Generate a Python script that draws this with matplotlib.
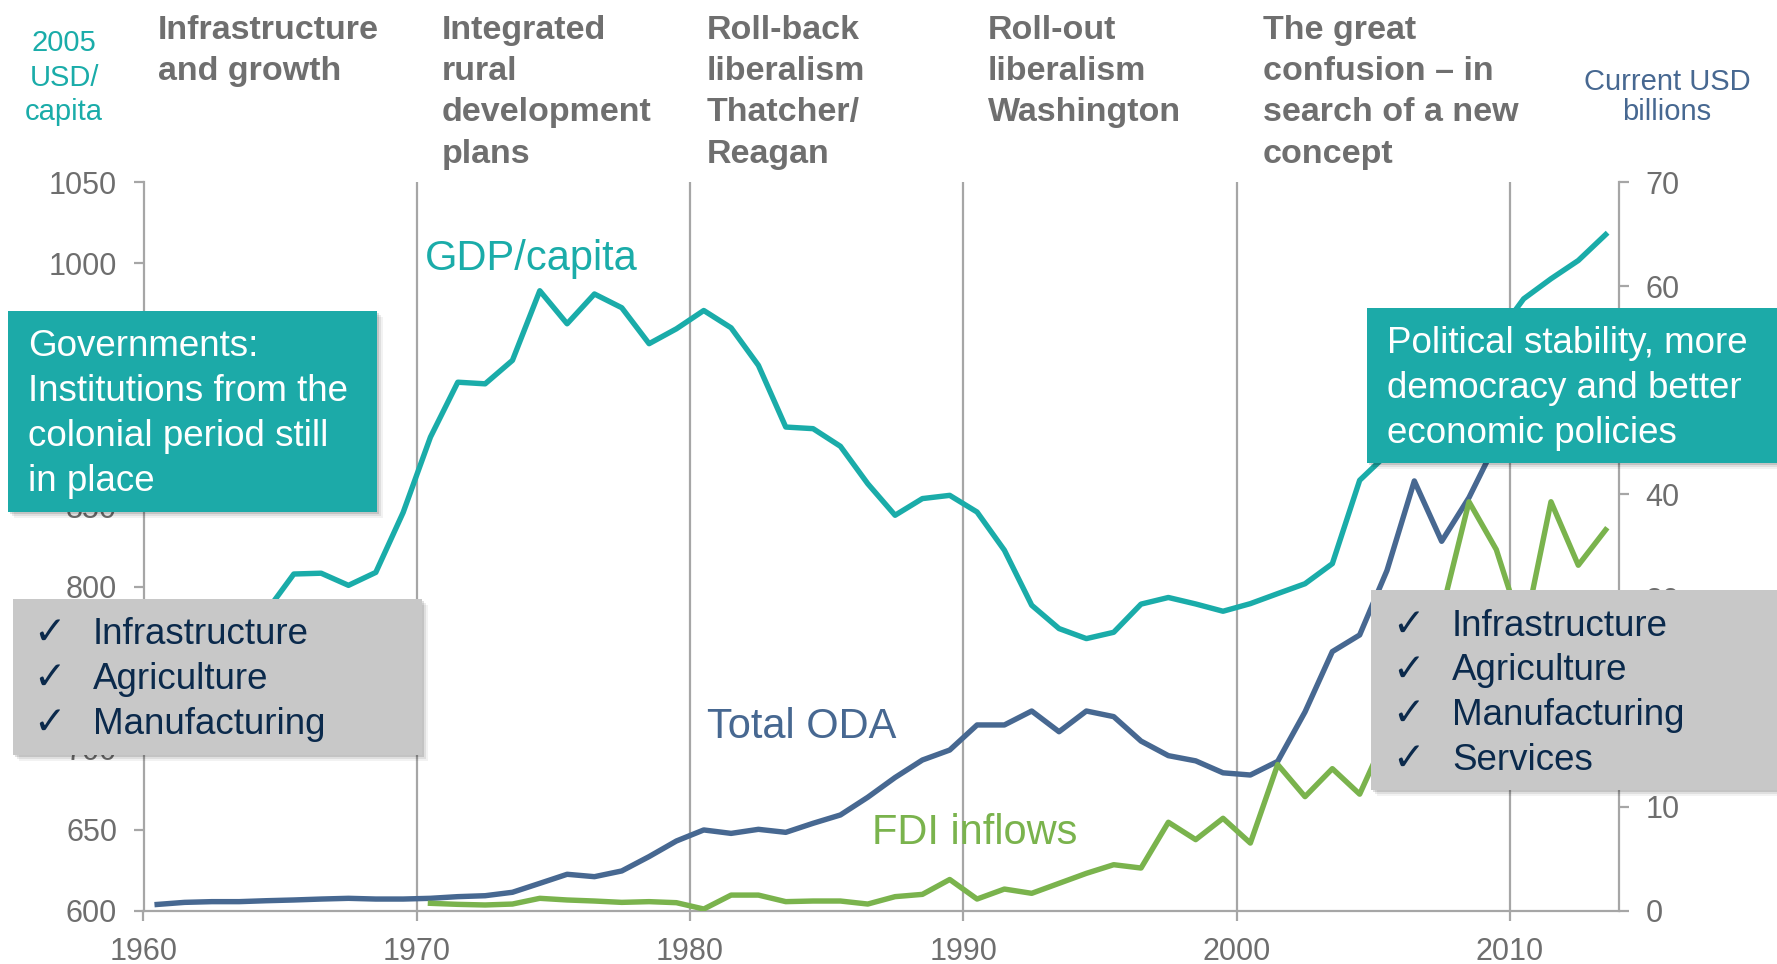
import numpy as np
import matplotlib.pyplot as plt
from matplotlib.patches import Rectangle

plt.rcParams['font.family'] = ['Liberation Sans', 'DejaVu Sans']

# data
years = np.arange(1960, 2014)
gdp_capita = [760, 758, 765, 772, 785, 808, 808.5, 801, 809, 846,
              892.6, 926.5, 925.5, 940, 983, 962.6, 981, 972.5, 950.3, 959.5,
              970.8, 960.1, 936.9, 898.8, 897.8, 886.9, 863.8, 844.3, 854.6, 856.6,
              846.3, 822.7, 788.7, 774.3, 768.1, 772, 789.4, 793.5, 789.5, 785,
              789.7, 795.9, 802, 814.4, 865.9, 882, 900, 920, 940, 955,
              978, 990.4, 1001.7, 1017.7]
total_oda = [0.6, 0.8, 0.87, 0.87, 0.96, 1.03, 1.12, 1.19, 1.12, 1.12,
             1.19, 1.35, 1.44, 1.77, 2.63, 3.5, 3.27, 3.82, 5.2, 6.7,
             7.76, 7.43, 7.82, 7.53, 8.4, 9.2, 10.9, 12.8, 14.48, 15.44,
             17.85, 17.85, 19.19, 17.2, 19.19, 18.65, 16.3, 14.9, 14.4, 13.25,
             13.04, 14.35, 19.1, 24.9, 26.5, 32.7, 41.3, 35.5, 39.7, 45,
             48, 51.5, 51, 55]
fdi_years = np.arange(1970, 2014)
fdi_inflows = [0.71, 0.61, 0.55, 0.64, 1.19, 1.03, 0.93, 0.8, 0.87, 0.77,
               0.16, 1.5, 1.5, 0.87, 0.93, 0.93, 0.64, 1.35, 1.57, 3.0,
               1.12, 2.08, 1.67, 2.63, 3.59, 4.42, 4.1, 8.5, 6.83, 8.88,
               6.5, 14.05, 10.96, 13.65, 11.2, 17, 21, 28.7, 39.3, 34.7,
               26.5, 39.3, 33.2, 36.6]

periods = [(158, ["Infrastructure", "and growth"]),
           (442, ["Integrated", "rural", "development", "plans"]),
           (707, ["Roll-back", "liberalism", "Thatcher/", "Reagan"]),
           (988, ["Roll-out", "liberalism", "Washington"]),
           (1263, ["The great", "confusion \u2013 in", "search of a new", "concept"])]

teal = '#1aaca9'
blue = '#476891'
green = '#7ab34d'
grey_txt = '#6e6e6e'
axis_grey = '#a6a6a6'
box_teal = '#1caaa8'
box_grey = '#c8c8c8'
navy = '#0b2a4c'

W, H = 1777, 964
fig = plt.figure(figsize=(W / 100, H / 100), dpi=100)
ax = fig.add_axes([143.5 / W, 1 - 910.7 / H, (1619.3 - 143.5) / W, (910.7 - 182.3) / H])
ax2 = ax.twinx()

# Excel category axis: each year sits in the middle of its slot
ax.plot(years + 0.5, gdp_capita, color=teal, lw=3.9, solid_joinstyle='round', zorder=3)
ax2.plot(years + 0.5, total_oda, color=blue, lw=3.9, solid_joinstyle='round', zorder=3)
ax2.plot(fdi_years + 0.5, fdi_inflows, color=green, lw=3.9, solid_joinstyle='round', zorder=3)

ax.set_xlim(1960, 2014)
ax.set_ylim(600, 1050)
ax2.set_ylim(0, 70)
ax.set_xticks(range(1960, 2011, 10))
ax.set_yticks(range(600, 1051, 50))
ax2.set_yticks(range(0, 71, 10))

for x in range(1970, 2011, 10):
    ax.axvline(x, color=axis_grey, lw=1.6, zorder=1)

for s in ['top', 'right']:
    ax.spines[s].set_visible(False)
for s in ['top', 'left', 'bottom']:
    ax2.spines[s].set_visible(False)
for a in (ax, ax2):
    for s in a.spines.values():
        s.set_color(axis_grey)
        s.set_linewidth(1.6)
    a.tick_params(colors=axis_grey, labelcolor=grey_txt, labelsize=22,
                  length=7, width=1.6, pad=12)

# overlay in pixel coordinates for boxes and text
ov = fig.add_axes([0, 0, 1, 1], zorder=5)
ov.set_xlim(0, W)
ov.set_ylim(H, 0)
ov.axis('off')


def box(x0, y0, x1, y1, color):
    for d, al in [(6, 0.05), (4, 0.08), (2, 0.12)]:
        ov.add_patch(Rectangle((x0 + d, y0 + d), x1 - x0, y1 - y0, color='black',
                               alpha=al, lw=0))
    ov.add_patch(Rectangle((x0, y0), x1 - x0, y1 - y0, color=color, lw=0))


box(8, 311, 377, 512, box_teal)
for i, t in enumerate(["Governments:", "Institutions from the",
                       "colonial period still", "in place"]):
    ov.text(28, 356 + 45 * i, t, color='white', fontsize=26.5, va='baseline')

box(1367, 308, 1790, 463, box_teal)
for i, t in enumerate(["Political stability, more", "democracy and better",
                       "economic policies"]):
    ov.text(1387, 353 + 45 * i, t, color='white', fontsize=26.5, va='baseline')

box(13, 599, 422, 755, box_grey)
for i, t in enumerate(["Infrastructure", "Agriculture", "Manufacturing"]):
    ov.text(33, 644 + 45 * i, "\u2713", color=navy, fontsize=28, va='baseline',
            family=['DejaVu Sans'], fontweight='bold')
    ov.text(93, 644 + 45 * i, t, color=navy, fontsize=26.5, va='baseline')

box(1371, 590, 1790, 790, box_grey)
for i, t in enumerate(["Infrastructure", "Agriculture", "Manufacturing", "Services"]):
    ov.text(1392, 636 + 44.5 * i, "\u2713", color=navy, fontsize=28, va='baseline',
            family=['DejaVu Sans'], fontweight='bold')
    ov.text(1452, 636 + 44.5 * i, t, color=navy, fontsize=26.5, va='baseline')

# period headers
for x0, lines in periods:
    for i, t in enumerate(lines):
        ov.text(x0, 39 + 41.2 * i, t, color='#6f6f6f', fontsize=24.5,
                fontweight='bold', va='baseline')

# axis unit labels
for y0, t in zip([50.7, 86, 120], ["2005", "USD/", "capita"]):
    ov.text(64, y0, t, color=teal, fontsize=21, ha='center', va='baseline')
for y0, t in zip([89.5, 120], ["Current USD", "billions"]):
    ov.text(1667, y0, t, color=blue, fontsize=21, ha='center', va='baseline')

# series labels
ov.text(425, 270, "GDP/capita", color=teal, fontsize=30, va='baseline')
ov.text(707, 738, "Total ODA", color=blue, fontsize=30, va='baseline')
ov.text(872, 844, "FDI inflows", color=green, fontsize=30, va='baseline')

fig.savefig('out.png', dpi=100)
